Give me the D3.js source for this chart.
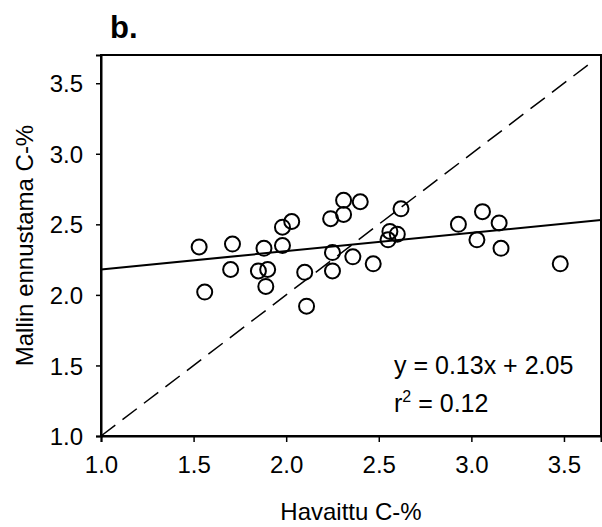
<!DOCTYPE html>
<html>
<head>
<meta charset="utf-8">
<script src="https://cdn.jsdelivr.net/npm/d3@7"></script>
<style>
  body { margin: 0; background: #fff; }
  text { font-family: "Liberation Sans", Arial, sans-serif; fill: #000; }
</style>
</head>
<body>
<svg id="chart" width="602" height="527"></svg>
<script>
// observed C-% vs model-predicted C-%
const observed  = [1.53, 1.56, 1.71, 1.70, 1.88, 1.85, 1.90, 1.89, 1.98, 1.98, 2.03, 2.10, 2.11,
                   2.24, 2.31, 2.31, 2.40, 2.25, 2.25, 2.36, 2.47, 2.62, 2.55, 2.56, 2.60,
                   2.93, 3.06, 3.15, 3.03, 3.16, 3.48];
const predicted = [2.34, 2.02, 2.36, 2.18, 2.33, 2.17, 2.18, 2.06, 2.35, 2.48, 2.52, 2.16, 1.92,
                   2.54, 2.67, 2.57, 2.66, 2.30, 2.17, 2.27, 2.22, 2.61, 2.39, 2.45, 2.43,
                   2.50, 2.59, 2.51, 2.39, 2.33, 2.22];
const xTicks = [1.0, 1.5, 2.0, 2.5, 3.0, 3.5];
const yTicks = [1.0, 1.5, 2.0, 2.5, 3.0, 3.5];
const fit = { slope: 0.13, intercept: 2.05 };
const fitLabel = "y = 0.13x + 2.05";
const r2Value = "0.12";

const svg = d3.select("#chart");
const m = { left: 101, right: 601, top: 55, bottom: 436 };

const x = d3.scaleLinear().domain([1.0, 3.7]).range([m.left, m.right]);
const y = d3.scaleLinear().domain([1.0, 3.7]).range([m.bottom, m.top]);

// frame
svg.append("rect")
  .attr("x", m.left).attr("y", m.top)
  .attr("width", m.right - m.left).attr("height", m.bottom - m.top)
  .attr("fill", "none").attr("stroke", "#000").attr("stroke-width", 2);

// axes
const xAxis = svg.append("g")
  .attr("transform", `translate(0,${m.bottom})`)
  .call(d3.axisBottom(x).tickValues(xTicks).tickFormat(d3.format(".1f")).tickSizeOuter(0).tickSize(6).tickPadding(14));
const yAxis = svg.append("g")
  .attr("transform", `translate(${m.left},0)`)
  .call(d3.axisLeft(y).tickValues(yTicks).tickFormat(d3.format(".1f")).tickSizeOuter(0).tickSize(5).tickPadding(13));

[xAxis, yAxis].forEach(g => {
  g.select(".domain").attr("stroke-width", 2);
  g.selectAll(".tick line").attr("stroke-width", 1.5);
  g.selectAll(".tick text").attr("font-size", 24).attr("font-family", "Liberation Sans, Arial, sans-serif");
});
yAxis.selectAll(".tick text").attr("dy", "0.36em");

// 1:1 line
svg.append("line")
  .attr("x1", x(1.0)).attr("y1", y(1.0))
  .attr("x2", x(3.66)).attr("y2", y(3.66))
  .attr("stroke", "#000").attr("stroke-width", 1.5)
  .attr("stroke-dasharray", "18,9");

// regression line
svg.append("line")
  .attr("x1", x(1.0)).attr("y1", y(fit.slope * 1.0 + fit.intercept))
  .attr("x2", x(3.7)).attr("y2", y(fit.slope * 3.7 + fit.intercept))
  .attr("stroke", "#000").attr("stroke-width", 2);

// points
svg.append("g").selectAll("circle")
  .data(observed.map((v, i) => [v, predicted[i]]))
  .join("circle")
  .attr("cx", d => x(d[0]))
  .attr("cy", d => y(d[1]))
  .attr("r", 7.5)
  .attr("fill", "none")
  .attr("stroke", "#000")
  .attr("stroke-width", 2);

// panel letter
svg.append("text")
  .attr("x", 110).attr("y", 38)
  .attr("font-size", 31).attr("font-weight", "bold")
  .text("b.");

// equation
svg.append("text")
  .attr("x", 394).attr("y", 374)
  .attr("font-size", 25)
  .text(fitLabel);

const r2 = svg.append("text")
  .attr("x", 394).attr("y", 412)
  .attr("font-size", 25);
r2.append("tspan").text("r");
r2.append("tspan").attr("font-size", 16).attr("dy", -10).text("2");
r2.append("tspan").attr("dy", 10).text(" = " + r2Value);

// axis titles
svg.append("text")
  .attr("x", (m.left + m.right) / 2).attr("y", 520)
  .attr("text-anchor", "middle")
  .attr("font-size", 24)
  .text("Havaittu C-%");

svg.append("text")
  .attr("transform", `translate(33,${(m.top + m.bottom) / 2}) rotate(-90)`)
  .attr("text-anchor", "middle")
  .attr("font-size", 24)
  .text("Mallin ennustama C-%");
</script>
</body>
</html>
